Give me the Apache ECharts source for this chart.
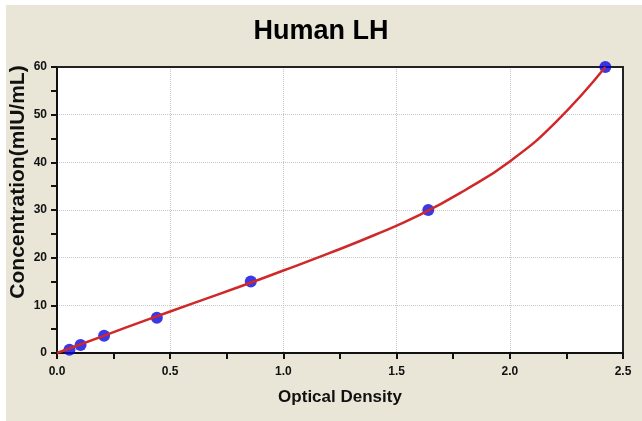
<!DOCTYPE html>
<html>
<head>
<meta charset="utf-8">
<script src="https://cdn.jsdelivr.net/npm/echarts@6/dist/echarts.min.js"></script>
<style>
html,body{margin:0;padding:0;background:#fff;}
#c{width:642px;height:421px;}
</style>
</head>
<body>
<div id="c"></div>
<script>
// Standard points (Optical Density, Concentration)
const stdOD = [0.055, 0.104, 0.208, 0.441, 0.856, 1.640, 2.422];
const stdConc = [0.7, 1.7, 3.6, 7.4, 15.0, 30.0, 60.0];
// Fitted curve
const curveOD = [0.0, 0.2, 0.4, 0.6, 0.8, 1.0, 1.2, 1.4, 1.6, 1.8, 2.0, 2.2, 2.422];
const curveConc = [0.0, 3.5, 7.0, 10.4, 13.8, 17.3, 20.9, 24.7, 28.9, 34.1, 40.2, 48.3, 60.0];
const titleText = 'Human LH';
const xName = 'Optical Density';
const yName = 'Concentration(mIU/mL)';

const chart = echarts.init(document.getElementById('c'), null, {renderer: 'canvas'});
const font = '"Liberation Sans", Arial, sans-serif';
const frameAxis = {
  show: true, axisLabel: {show: false}, axisTick: {show: false},
  splitLine: {show: false}, axisLine: {show: true, onZero: false, lineStyle: {color: '#222', width: 2}}
};
chart.setOption({
  backgroundColor: '#ffffff',
  animation: false,
  graphic: [{
    type: 'rect', z: -10, silent: true,
    shape: {x: 6, y: 5, width: 636, height: 416},
    style: {fill: '#e9e6d8'}
  }],
  title: {
    text: titleText, left: 'center', top: 13,
    textStyle: {fontFamily: font, fontSize: 27, fontWeight: 'bold', color: '#000'}
  },
  grid: {
    left: 57, right: 19, top: 67, bottom: 68,
    containLabel: false, outerBoundsMode: 'none',
    show: true, backgroundColor: '#ffffff', borderColor: '#222', borderWidth: 0
  },
  xAxis: [{
    type: 'value', min: 0, max: 2.5, interval: 0.5, position: 'bottom',
    name: xName, nameLocation: 'middle', nameGap: 36, nameMoveOverlap: false,
    nameTextStyle: {fontFamily: font, fontSize: 17, fontWeight: 'bold', color: '#111'},
    axisLine: {show: true, onZero: false, lineStyle: {color: '#111', width: 2}},
    axisTick: {show: true, inside: false, length: 6, lineStyle: {color: '#111', width: 2}},
    minorTick: {show: true, splitNumber: 2, length: 6, lineStyle: {color: '#111', width: 2}},
    axisLabel: {fontFamily: font, fontSize: 12, fontWeight: 'bold', color: '#111', margin: 13,
      formatter: v => v.toFixed(1)},
    splitLine: {show: true, lineStyle: {color: '#c8c8c8', type: 'dotted', width: 1}}
  }, Object.assign({type: 'value', min: 0, max: 2.5, position: 'top'}, frameAxis)],
  yAxis: [{
    type: 'value', min: 0, max: 60, interval: 10, position: 'left',
    name: yName, nameLocation: 'middle', nameGap: 28, nameMoveOverlap: false,
    nameTextStyle: {fontFamily: font, fontSize: 21, fontWeight: 'bold', color: '#111',
      padding: [0, 0, 0, 56]},
    axisLine: {show: true, onZero: false, lineStyle: {color: '#111', width: 2}},
    axisTick: {show: true, inside: false, length: 6, lineStyle: {color: '#111', width: 2}},
    minorTick: {show: true, splitNumber: 2, length: 6, lineStyle: {color: '#111', width: 2}},
    axisLabel: {fontFamily: font, fontSize: 12, fontWeight: 'bold', color: '#111', margin: 10},
    splitLine: {show: true, lineStyle: {color: '#c8c8c8', type: 'dotted', width: 1}}
  }, Object.assign({type: 'value', min: 0, max: 60, position: 'right'}, frameAxis)],
  series: [{
    type: 'line', smooth: 0.5, symbol: 'none',
    data: curveOD.map((x, i) => [x, curveConc[i]]),
    lineStyle: {color: '#d02828', width: 2.5}, z: 3
  }, {
    type: 'scatter', symbol: 'circle', symbolSize: 12,
    data: stdOD.map((x, i) => [x, stdConc[i]]),
    itemStyle: {color: '#0808e0'}, z: 2
  }]
});
</script>
</body>
</html>
